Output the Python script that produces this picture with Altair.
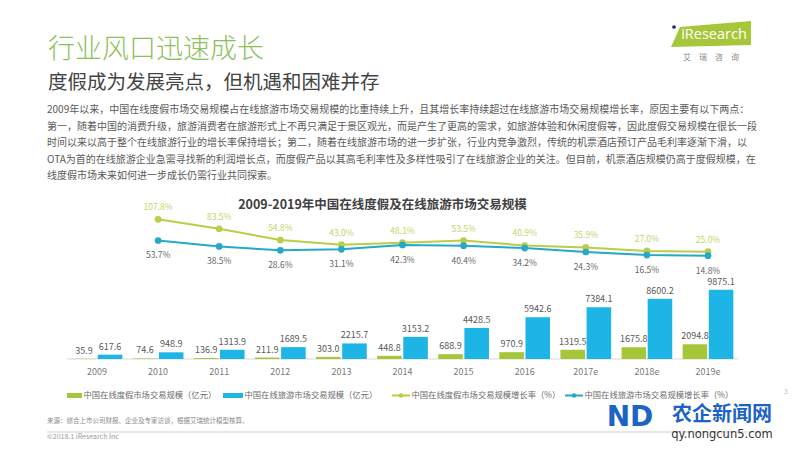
import altair as alt
import pandas as pd

# ---------------- data ----------------
years = ["2009", "2010", "2011", "2012", "2013", "2014", "2015", "2016", "2017e", "2018e", "2019e"]
vacation_scale = [35.9, 74.6, 136.9, 211.9, 303.0, 448.8, 688.9, 970.9, 1319.5, 1675.8, 2094.8]
travel_scale = [617.6, 948.9, 1313.9, 1689.5, 2215.7, 3153.2, 4428.5, 5942.6, 7384.1, 8600.2, 9875.1]
rate_years = years[1:]
vacation_growth = [107.8, 83.5, 54.8, 43.0, 48.1, 53.5, 40.9, 35.9, 27.0, 25.0]
travel_growth = [53.7, 38.5, 28.6, 31.1, 42.3, 40.4, 34.2, 24.3, 16.5, 14.8]

legend_labels = ["中国在线度假市场交易规模（亿元）", "中国在线旅游市场交易规模（亿元）",
                 "中国在线度假市场交易规模增长率（%）", "中国在线旅游市场交易规模增长率（%）"]

title_text = "行业风口迅速成长"
subtitle_text = "度假成为发展亮点，但机遇和困难并存"
chart_title = "2009-2019年中国在线度假及在线旅游市场交易规模"
paragraph_lines = [
    "2009年以来，中国在线度假市场交易规模占在线旅游市场交易规模的比重持续上升，且其增长率持续超过在线旅游市场交易规模增长率，原因主要有以下两点：",
    "第一，随着中国的消费升级，旅游消费者在旅游形式上不再只满足于景区观光，而是产生了更高的需求，如旅游体验和休闲度假等，因此度假交易规模在很长一段",
    "时间以来以高于整个在线旅游行业的增长率保持增长；第二，随着在线旅游市场的进一步扩张，行业内竞争激烈，传统的机票酒店预订产品毛利率逐渐下滑，以",
    "OTA为首的在线旅游企业急需寻找新的利润增长点，而度假产品以其高毛利率性及多样性吸引了在线旅游企业的关注。但目前，机票酒店规模仍高于度假规模，在",
    "线度假市场未来如何进一步成长仍需行业共同探索。",
]
source_text = "来源：综合上市公司财报、企业及专家访谈，根据艾瑞统计模型核算。"
copyright_text = "©2018.1 iResearch Inc"

# ---------------- styles ----------------
FONT = "Noto Sans CJK SC"
GREEN_BAR = "#a6c63a"
BLUE_BAR = "#1db4e6"
GREEN_LINE = "#b9cd48"
BLUE_LINE = "#27a8c8"
series_names = ["度假", "旅游"]

bar_df = pd.DataFrame({
    "year": years * 2,
    "series": [series_names[0]] * len(years) + [series_names[1]] * len(years),
    "value": vacation_scale + travel_scale,
})
bar_df["label"] = bar_df["value"].map(lambda v: f"{v:.1f}")

def rate_df(vals):
    d = pd.DataFrame({"year": rate_years, "rate": vals})
    d["label"] = d["rate"].map(lambda v: f"{v:.1f}%")
    return d

green_df = rate_df(vacation_growth)
blue_df = rate_df(travel_growth)

x_scale = alt.Scale(domain=years, range=[58.45, 730.55], paddingInner=0.17, paddingOuter=0.085)
bar_y = alt.Scale(domain=[0, 10000], range=[351, 351 - 70.2], nice=False, zero=True)
rate_y = alt.Scale(domain=[0, 100], range=[253.5, 253.5 - 39.14], nice=False, zero=True)
off_scale = alt.Scale(domain=series_names, paddingInner=0.06)
col_scale = alt.Scale(domain=series_names, range=[GREEN_BAR, BLUE_BAR])

X = alt.X("year:N", scale=x_scale, axis=None)

bars = alt.Chart(bar_df).mark_bar().encode(
    x=X,
    xOffset=alt.XOffset("series:N", scale=off_scale),
    y=alt.Y("value:Q", scale=bar_y, axis=None),
    color=alt.Color("series:N", scale=col_scale, legend=None),
)
bar_labels = alt.Chart(bar_df).mark_text(
    baseline="bottom", dy=-3, fontSize=9, color="#595959", font=FONT
).encode(
    x=X,
    xOffset=alt.XOffset("series:N", scale=off_scale),
    y=alt.Y("value:Q", scale=bar_y, axis=None),
    text="label:N",
)

def rate_layers(df, color, label_color, dy):
    base = alt.Chart(df).encode(x=X, y=alt.Y("rate:Q", scale=rate_y, axis=None))
    return [
        base.mark_line(color=color, strokeWidth=2),
        base.mark_point(filled=True, size=45, color=color, opacity=1),
        base.mark_text(dy=dy, fontSize=8.5, color=label_color, font=FONT).encode(text="label:N"),
    ]

lines = rate_layers(green_df, GREEN_LINE, "#c3d46a", -12) + rate_layers(blue_df, BLUE_LINE, "#666666", 15)

one = pd.DataFrame({"k": [0]})

def txt(s, x, y, **kw):
    kw.setdefault("font", FONT)
    return alt.Chart(pd.DataFrame({"t": [s]})).mark_text(**kw).encode(
        x=alt.value(x), y=alt.value(y), text="t:N")

# year labels
year_labels = alt.Chart(pd.DataFrame({"year": years})).mark_text(
    fontSize=9, color="#7a7a7a", font=FONT
).encode(x=X, y=alt.value(364), text="year:N")

baseline = alt.Chart(one).mark_rule(color="#d9d9d9", strokeWidth=1).encode(
    x=alt.value(59), x2=alt.value(730), y=alt.value(351))
divider = alt.Chart(one).mark_rule(color="#cfcfcf", strokeWidth=1).encode(
    x=alt.value(39), x2=alt.value(755), y=alt.value(424))

# legend
LEG_Y = 387.5
legend_layers = []
swatch_x = [(59, 74), (215, 235)]
for (x0, x1), col, lab in zip(swatch_x, [GREEN_BAR, BLUE_BAR], legend_labels[:2]):
    legend_layers.append(alt.Chart(one).mark_rect(color=col).encode(
        x=alt.value(x0), x2=alt.value(x1), y=alt.value(LEG_Y - 2.5), y2=alt.value(LEG_Y + 2.5)))
    legend_layers.append(txt(lab, x1 + 1.5, LEG_Y, align="left", baseline="middle", fontSize=8.3, color="#6b6b6b"))
line_x = [(384, 402), (557, 575)]
for (x0, x1), col, lab in zip(line_x, [GREEN_LINE, BLUE_LINE], legend_labels[2:]):
    legend_layers.append(alt.Chart(one).mark_rule(color=col, strokeWidth=2).encode(
        x=alt.value(x0), x2=alt.value(x1), y=alt.value(LEG_Y)))
    legend_layers.append(alt.Chart(one).mark_point(filled=True, size=22, color=col, opacity=1).encode(
        x=alt.value((x0 + x1) / 2), y=alt.value(LEG_Y)))
    legend_layers.append(txt(lab, x1 + 1.5, LEG_Y, align="left", baseline="middle", fontSize=8.3, color="#6b6b6b"))

# logo
logo_shape = alt.Chart(one).mark_point(
    shape="M -0.775 -0.175 L 1 -0.325 L 1 0.275 L -1 0.325 Z",
    filled=True, size=6400, color="#a5c739", opacity=1, strokeWidth=0
).encode(x=alt.value(703), y=alt.value(26))
logo_text = txt("iResearch", 706, 27, align="center", baseline="middle", fontSize=14.5,
                color="#ffffff", font="Open Sans")
logo_dot = alt.Chart(one).mark_point(filled=True, size=14, color="#1d3461", opacity=1).encode(
    x=alt.value(666), y=alt.value(19))
logo_cn = txt("艾　瑞　咨　询", 703, 50, align="center", baseline="middle", fontSize=8, color="#8a8a8a")

texts = [
    txt(title_text, 40, 42, align="left", baseline="middle", fontSize=27, fontWeight=300, color="#8cc15a"),
    txt(subtitle_text, 40, 75, align="left", baseline="middle", fontSize=19.5, color="#444444"),
    alt.Chart(pd.DataFrame({"t": ["\n".join(paragraph_lines)]})).mark_text(
        align="left", baseline="top", lineBreak="\n", lineHeight=16.5, fontSize=10,
        color="#5a5a5a", font=FONT
    ).encode(x=alt.value(39), y=alt.value(97), text="t:N"),
    txt(chart_title, 374.5, 197, align="center", baseline="middle", fontSize=12.5, fontWeight="bold", color="#404040"),
    txt(source_text, 39, 413, align="left", baseline="middle", fontSize=6.5, color="#8a8a8a"),
    txt(copyright_text, 39, 429, align="left", baseline="middle", fontSize=7, color="#9a9a9a"),
    txt("3", 778, 384, align="center", baseline="middle", fontSize=7, color="#bbbbbb"),
    # watermark
    txt("ND", 622, 410, align="center", baseline="middle", fontSize=28, fontWeight="bold",
        color="#1c63c4", font="DejaVu Sans"),
    txt("农企新闻网", 714, 407, align="center", baseline="middle", fontSize=20, fontWeight="bold", color="#1c63c4"),
    txt("qy.nongcun5.com", 714, 426.5, align="center", baseline="middle", fontSize=11.5, color="#333333",
        font="DejaVu Sans"),
]

chart = alt.layer(
    baseline, bars, bar_labels, *lines, year_labels, divider, *legend_layers,
    logo_shape, logo_dot, logo_text, logo_cn, *texts
).resolve_scale(y="independent", color="independent").properties(
    width=784, height=434, padding=0, autosize="none", background="white"
).configure_view(stroke=None)

chart.save("out.html", embed_options={"renderer": "svg", "actions": False})
